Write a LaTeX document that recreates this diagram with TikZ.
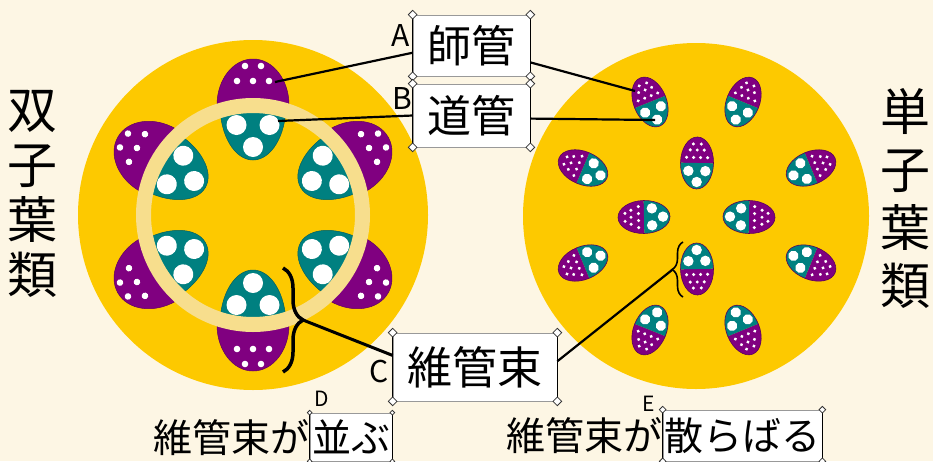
\documentclass[tikz,border=0pt]{standalone}
\usepackage{fontspec}
\setmainfont{Noto Sans CJK JP}
\usetikzlibrary{shapes.geometric, decorations.pathreplacing}

\definecolor{bgcream}{HTML}{FDF6E4}
\definecolor{pith}{HTML}{FDC900}
\definecolor{cambium}{HTML}{F7DE8D}
\definecolor{phloem}{HTML}{800080}
\definecolor{xylem}{HTML}{008080}

\tikzset{
  phloemfill/.style={fill=phloem, draw=phloem!75!black, line width=0.5pt},
  xylemfill/.style={fill=xylem, draw=xylem!75!black, line width=0.5pt},
  bundleedge/.style={draw=phloem!70!black, line width=0.6pt},
  labelbox/.style={draw=black!40, line width=0.7pt, fill=white, inner sep=0pt,
    font=\fontsize{44}{44}\selectfont},
  smallbox/.style={draw=black!40, line width=0.7pt, fill=white, inner sep=0pt,
    font=\fontsize{39}{39}\selectfont},
  caption/.style={inner sep=0pt, font=\fontsize{39}{39}\selectfont},
  sideline/.style={line width=1.6pt, black},
  handle/.style={diamond, draw=black!80, fill=white, line width=0.8pt,
    minimum width=#1, minimum height=#1, inner sep=0pt},
  handle/.default=8pt,
  leader/.style={line width=2.2pt, black},
  letter/.style={inner sep=0pt, font=\fontsize{30}{30}\selectfont},
  smallletter/.style={inner sep=0pt, font=\fontsize{21}{21}\selectfont},
  sidetext/.style={inner sep=0pt, align=center},
}

% dark side edges and corner handles of a label box
\newcommand\boxdeco[2]{%
  \draw[sideline] (#1.north west) -- (#1.south west) (#1.north east) -- (#1.south east);
  \foreach \c/\k in {north west/nw, north east/ne, south west/sw, south east/se}
    \node[handle=#2] (#1-\k) at (#1.\c) {};}

\begin{document}
\begin{tikzpicture}[x=1pt, y=-1pt]
\useasboundingbox (0,0) rectangle (933,461);
\fill[bgcream] (0,0) rectangle (933,461);

% ---- dicot stem: bundles in a ring ----
\fill[pith] (253,215) circle (175);
\begin{scope}[shift={(253,215)}]
  \foreach \a in {90,30,-30,-90,-150,150}{
    \begin{scope}[rotate=\a]
      \filldraw[phloemfill] (110,-36) arc[start angle=-90, end angle=90, x radius=46, y radius=36] -- cycle;
      \filldraw[xylemfill] (110,33) arc[start angle=90, end angle=270, x radius=55, y radius=33] -- cycle;
      \foreach \u/\v in {90/-16.5, 90/16.5, 68/0} \fill[white] (\u,\v) circle (10);
      \foreach \u/\v in {134/-16, 134/0, 134/16, 149/-8, 149/8} \fill[white] (\u,\v) circle (3.3);
    \end{scope}}
  \draw[cambium, line width=15pt] (0,0) circle (109.5);
\end{scope}

% ---- monocot stem: scattered bundles ----
\fill[pith] (696,216) circle (173);
\foreach \x/\y in {650/102, 743/102, 697/163, 583/168, 811/168, 644/217,
                   749/217, 583/263, 697/269, 811/263, 650/330, 743/330}{
  \pgfmathsetmacro\ang{atan2(216-\y, \x-696)}
  \begin{scope}[shift={(\x,\y)}, rotate=\ang]
    \fill[phloem] (0,-16.5) arc[start angle=-90, end angle=90, x radius=26, y radius=16.5] -- cycle;
    \fill[xylem] (0,16.5) arc[start angle=90, end angle=270, x radius=26, y radius=16.5] -- cycle;
    \draw[bundleedge] (0,0) ellipse [x radius=26, y radius=16.5];
    \foreach \u/\v in {-8/-8.5, -8/8.5, -19/0} \fill[white] (\u,\v) circle (5.2);
    \foreach \u/\v in {19/-4, 19/4, 13/-7, 13/0, 13/7, 5.5/-10.5, 5.5/-3.5, 5.5/3.5, 5.5/10.5}
      \fill[white] (\u,\v) circle (1.7);
  \end{scope}}

% ---- braces marking one bundle ----
\draw[decorate, decoration={brace, amplitude=20pt}, line width=3.5pt] (283,268) -- (283,372);
\draw[decorate, decoration={brace, amplitude=11pt}, line width=1.6pt] (683,297) -- (683,242);
\coordinate (lbr) at (303,320);
\coordinate (rbr) at (672,270);

% leader end points inside the bundles
\coordinate (lph) at (275,82);
\coordinate (lxy) at (278,121);
\coordinate (rph) at (635,91);
\coordinate (rxy) at (655,120);

% leaders, drawn first so the boxes cover their ends
\path (471.5,45.5) coordinate (phc) (471.5,115.5) coordinate (xyc) (475,367) coordinate (vbc);
\node[labelbox, minimum width=117pt, minimum height=61pt] (ph) at (phc) {師管};
\node[labelbox, minimum width=117pt, minimum height=63pt] (xy) at (xyc) {道管};
\node[labelbox, minimum width=164pt, minimum height=68pt,
      font=\fontsize{45}{45}\selectfont] (vb) at (vbc) {維管束};

\draw[leader] (lph) -- (ph.187);
\draw[leader] (ph.-16) -- (rph);
\draw[leader] (lxy) -- (xy.west);
\draw[leader] (xy.-3) -- (rxy);
\draw[leader, line width=3pt] (lbr) -- (vb.172);
\draw[leader] (vb.4) -- (rbr);

\boxdeco{ph}{9pt}
\boxdeco{xy}{9pt}
\boxdeco{vb}{9pt}

\node[letter] (la) at (401,36) {A};
\node[letter] (lb) at (402,99) {B};
\node[letter] (lc) at (379,371) {C};

% ---- captions ----
\node[smallbox, minimum width=82pt, minimum height=48pt] (ar) at (351,437) {並ぶ};
\node[smallbox, minimum width=159pt, minimum height=51pt] (sc) at (742.5,435.5) {散らばる};
\boxdeco{ar}{5pt}
\boxdeco{sc}{7pt}
\node[caption, anchor=base east] (arlead) at (ar.base west) {維管束が};
\node[caption, anchor=base east] (sclead) at (sc.base west) {維管束が};
\node[smallletter] (ld) at (322,399) {D};
\node[smallletter] (le) at (649,404) {E};

% ---- side titles ----
\node[sidetext, font=\fontsize{50}{55}\selectfont] (dicot) at (33,194) {双\\子\\葉\\類};
\node[sidetext, font=\fontsize{50}{58}\selectfont] (monocot) at (905,198) {単\\子\\葉\\類};
\end{tikzpicture}
\end{document}
